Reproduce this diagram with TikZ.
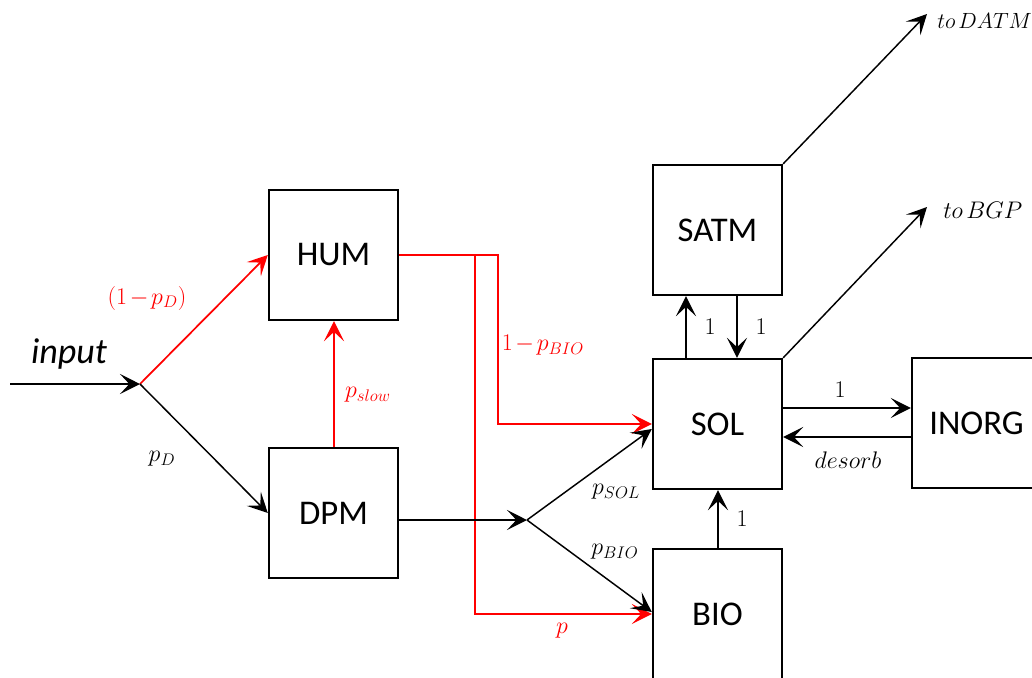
\RequirePackage{fix-cm}
\documentclass[tikz,border=0pt]{standalone}
\usepackage{fontspec}
\setmainfont{Carlito}
\usetikzlibrary{arrows.meta}
\definecolor{cred}{RGB}{255,0,0}
\begin{document}
\begin{tikzpicture}[x=0.75pt,y=-0.75pt,
  box/.style={draw,line width=1.8pt,minimum width=96.75pt,minimum height=97.5pt,inner sep=0pt,font=\fontsize{26}{30}\selectfont},
  conn/.style={line width=1.1pt,-{Stealth[length=15pt,width=15pt,inset=7pt]}},
  redconn/.style={conn,cred,line width=1.3pt},
  lbl/.style={font=\fontsize{18}{22}\selectfont,inner sep=0pt}]
\useasboundingbox (0,0) rectangle (1032,678);
\clip (0,0) rectangle (1032,678);
% boxes
\node[box] (HUM) at (333.5,255) {HUM};
\node[box] (DPM) at (333.5,513) {DPM};
\node[box] (SATM) at (717.5,230) {SATM};
\node[box] (SOL) at (717.5,424) {SOL};
\node[box] (INORG) at (976.5,423) {INORG};
\node[box] (BIO) at (717.5,614) {BIO};
% free ends and junctions
\coordinate (in0) at (10,384);
\coordinate (j1) at (140,384);
\coordinate (j2) at (527,520);
\coordinate (datm) at (927,14);
\coordinate (bgp) at (927,207);
% red flows
\draw[redconn] (j1) -- (HUM.west);
\draw[redconn] (DPM.north -| 334,0) -- (HUM.south -| 334,0);
\draw[redconn] (HUM.east) -- ++(99,0) |- (SOL.west);
\draw[redconn] (HUM.east) -- ++(76,0) |- (BIO.west);
% black flows
\draw[conn] (in0) -- (j1);
\draw[conn] (j1) -- (DPM.west);
\draw[conn] (DPM.east |- j2) -- (j2);
\draw[conn] (j2) -- (SOL.west |- 0,429);
\draw[conn] (j2) -- (BIO.west |- 0,612);
\draw[conn] (SOL.north -| 686,0) -- (SATM.south -| 686,0);
\draw[conn] (SATM.south -| 737,0) -- (SOL.north -| 737,0);
\draw[conn] (SOL.east |- 0,408) -- (INORG.west |- 0,408);
\draw[conn] (INORG.west |- 0,437) -- (SOL.east |- 0,437);
\draw[conn] (BIO.north -| 718,0) -- (SOL.south -| 718,0);
\draw[conn] (SATM.north east) -- (datm);
\draw[conn] (SOL.north east) -- (bgp);
% labels
\node[font=\fontsize{27}{30}\selectfont\itshape,anchor=base,inner sep=0pt] (linput) at (69,363) {input};
\node[lbl,text=cred] (l1pd) at (147,298) {$(1\mkern2mu{-}\mkern2mu p_D)$};
\node[lbl] (lpd) at (162,459) {$p_D$};
\node[lbl,text=cred] (lslow) at (368,395) {$p_{slow}$};
\node[lbl,text=cred] (l1pbio) at (543,345) {$1\mkern2mu{-}\mkern2mu p_{BIO}$};
\node[lbl,text=cred] (lp) at (562,631) {$p$};
\node[lbl] (lpsol) at (616,492) {$p_{SOL}$};
\node[lbl] (lpbio) at (615,552) {$p_{BIO}$};
\node[lbl] (lsatup) at (710,327) {$1$};
\node[lbl] (lsatdn) at (761,327) {$1$};
\node[lbl] (linorg) at (840,390) {$1$};
\node[lbl] (ldesorb) at (848,460) {$desorb$};
\node[lbl] (lbio) at (742,519) {$1$};
\node[lbl,font=\fontsize{16.5}{20}\selectfont,anchor=west] (ldatm) at (937,21) {$to\mkern2.5mu DATM$};
\node[lbl,anchor=west] (lbgp) at (943,210) {$to\mkern2.5mu BGP$};
\end{tikzpicture}
\end{document}
